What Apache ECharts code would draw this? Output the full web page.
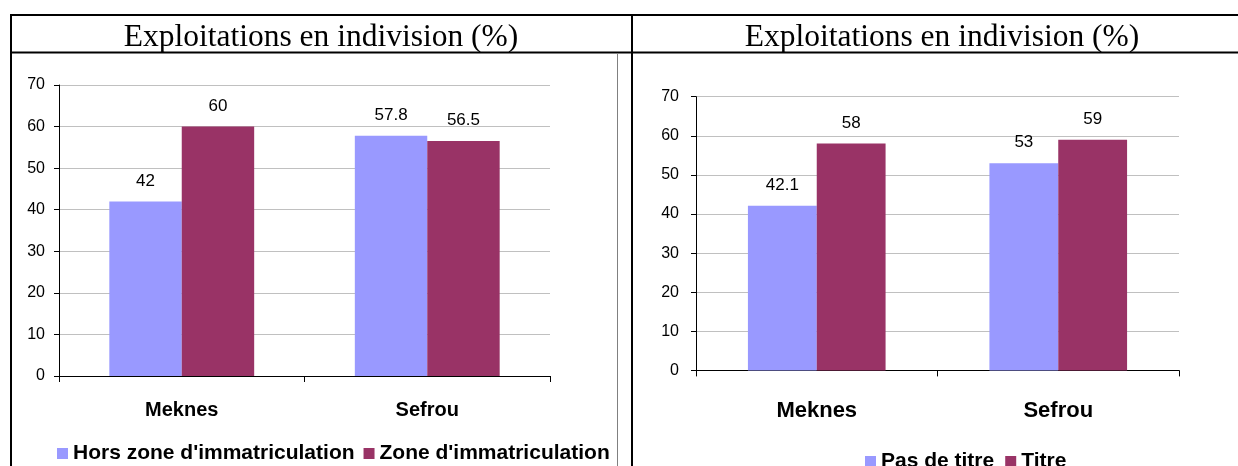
<!DOCTYPE html>
<html>
<head>
<meta charset="utf-8">
<script src="https://cdn.jsdelivr.net/npm/echarts@6/dist/echarts.min.js"></script>
<style>
  html, body { margin: 0; padding: 0; background: #fff; }
  #chart { width: 1238px; height: 466px; }
</style>
</head>
<body>
<div id="chart"></div>
<script>
// Shared title and categories
const panelTitle = 'Exploitations en indivision (%)';
const regions = ['Meknes', 'Sefrou'];

// Left panel: by registration zone
const leftSeriesNames = ["Hors zone d'immatriculation", "Zone d'immatriculation"];
const horsZone = [42, 57.8];
const zoneImmat = [60, 56.5];

// Right panel: by land title
const rightSeriesNames = ['Pas de titre', 'Titre'];
const pasDeTitre = [42.1, 53];
const titre = [58, 59];

const colors = ['#9999FF', '#993366'];
const sans = '"Liberation Sans", Arial, sans-serif';
const serif = '"Liberation Serif", "Times New Roman", serif';

function barSeries(name, data, idx, color, fontSize) {
  return {
    type: 'bar',
    name: name,
    data: data,
    xAxisIndex: idx,
    yAxisIndex: idx,
    barGap: '0%',
    barCategoryGap: idx === 0 ? '41%' : '43%',
    itemStyle: { color: color },
    label: {
      show: true,
      position: 'top',
      distance: 12,
      color: '#000',
      fontFamily: sans,
      fontSize: fontSize
    }
  };
}

function yAxis(gridIndex, fontSize, margin) {
  return {
    type: 'value',
    gridIndex: gridIndex,
    min: 0,
    max: 70,
    interval: 10,
    axisLine: { show: true, lineStyle: { color: '#000', width: 1 } },
    axisTick: { show: true, length: 5, lineStyle: { color: '#000' } },
    axisLabel: { color: '#000', fontFamily: sans, fontSize: fontSize, margin: margin },
    splitLine: { show: true, lineStyle: { color: '#c0c0c0', width: 1 } }
  };
}

function xAxis(gridIndex, fontSize, margin) {
  return {
    type: 'category',
    gridIndex: gridIndex,
    data: regions,
    axisLine: { show: true, lineStyle: { color: '#000', width: 1 } },
    axisTick: { show: true, length: 6, lineStyle: { color: '#000' } },
    axisLabel: { color: '#000', fontFamily: sans, fontWeight: 'bold', fontSize: fontSize, margin: margin }
  };
}

function hLine(x1, x2, y, w, c) {
  return { type: 'line', silent: true, shape: { x1: x1, y1: y, x2: x2, y2: y }, style: { stroke: c, lineWidth: w } };
}
function vLine(x, y1, y2, w, c) {
  return { type: 'line', silent: true, shape: { x1: x, y1: y1, x2: x, y2: y2 }, style: { stroke: c, lineWidth: w } };
}
function titleText(cx) {
  return {
    type: 'text', silent: true, x: cx, y: 38,
    style: { text: panelTitle, fill: '#000', fontFamily: serif, fontSize: 31.5, align: 'center', verticalAlign: 'middle' }
  };
}

const chart = echarts.init(document.getElementById('chart'), null, { renderer: 'canvas' });
chart.setOption({
  animation: false,
  backgroundColor: '#fff',
  grid: [
    { left: 59, top: 85, width: 491, height: 291, containLabel: false },
    { left: 696, top: 96.7, width: 483, height: 273.7, containLabel: false }
  ],
  xAxis: [xAxis(0, 20, 24), xAxis(1, 22, 30)],
  yAxis: [yAxis(0, 16, 14), yAxis(1, 16, 17)],
  legend: [
    {
      data: leftSeriesNames,
      left: 57, top: 443, padding: 0,
      icon: 'rect', itemWidth: 11, itemHeight: 11, itemGap: 9,
      textStyle: { color: '#000', fontFamily: sans, fontWeight: 'bold', fontSize: 21 }
    },
    {
      data: rightSeriesNames,
      left: 865, top: 451, padding: 0,
      icon: 'rect', itemWidth: 11, itemHeight: 11, itemGap: 11,
      textStyle: { color: '#000', fontFamily: sans, fontWeight: 'bold', fontSize: 21 }
    }
  ],
  series: [
    barSeries(leftSeriesNames[0], horsZone, 0, colors[0], 17),
    barSeries(leftSeriesNames[1], zoneImmat, 0, colors[1], 17),
    barSeries(rightSeriesNames[0], pasDeTitre, 1, colors[0], 17),
    barSeries(rightSeriesNames[1], titre, 1, colors[1], 17)
  ],
  graphic: [
    // table frame
    hLine(10, 1238, 15, 2, '#000'),
    hLine(10, 1238, 52.5, 2, '#000'),
    vLine(11, 14, 466, 2, '#000'),
    vLine(632, 14, 466, 2, '#000'),
    // left chart area border
    vLine(617.5, 53.5, 466, 1, '#808080'),
    titleText(321),
    titleText(942)
  ]
});
</script>
</body>
</html>
